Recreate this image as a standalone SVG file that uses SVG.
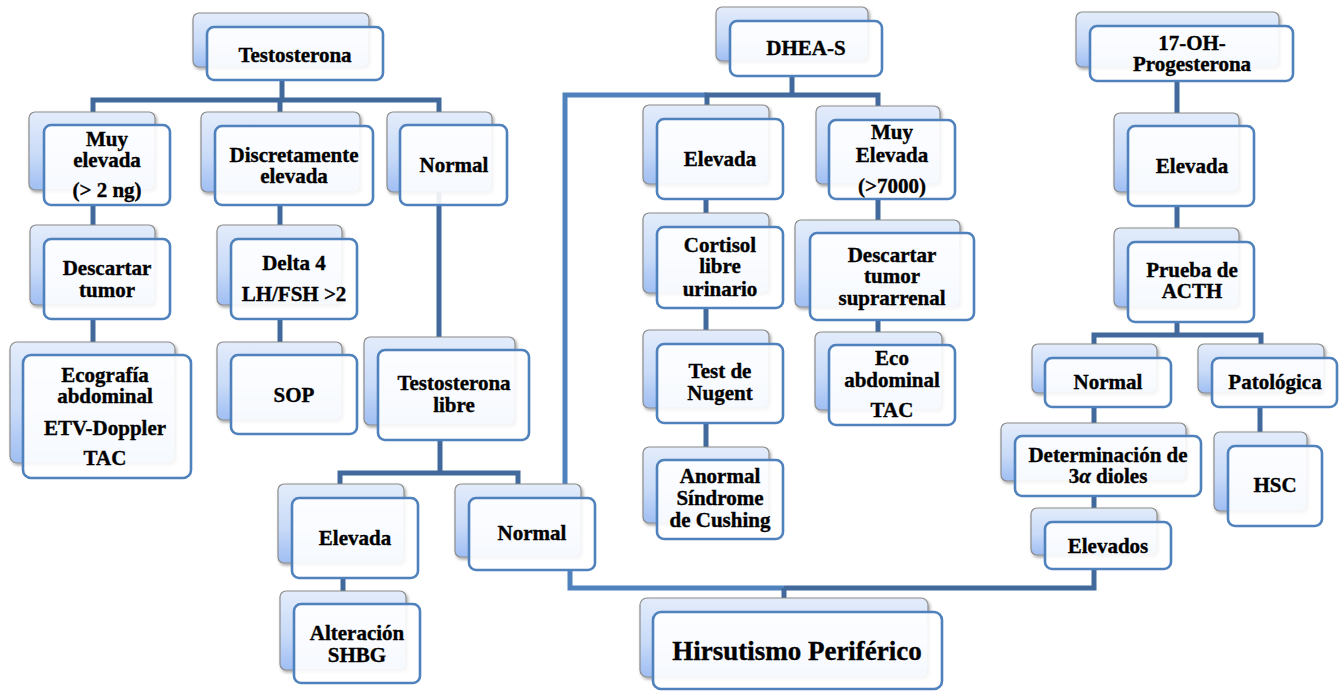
<svg xmlns="http://www.w3.org/2000/svg" width="1343" height="691" viewBox="0 0 1343 691">
  <defs>
    <linearGradient id="backFill" x1="0" y1="0" x2="0" y2="1">
      <stop offset="0" stop-color="#e3ecfb"/>
      <stop offset="0.55" stop-color="#c9dbf8"/>
      <stop offset="1" stop-color="#9fbef3"/>
    </linearGradient>
    <filter id="shadow" x="-10%" y="-10%" width="125%" height="130%">
      <feDropShadow dx="1.5" dy="2" stdDeviation="1.5" flood-color="#000" flood-opacity="0.35"/>
    </filter>
    <style>
      .back { fill: url(#backFill); stroke: #8c8c8c; stroke-width: 1.2; filter: url(#shadow); }
      .front { fill: #ffffff; fill-opacity: 0.9; stroke: #4f81bd; stroke-width: 2.6; }
      #nodes text { stroke: #000; stroke-width: 0.35; }
      .wire { fill: none; stroke: #41699b; stroke-width: 5; }
      .wire.light { stroke: #4f81bd; }
    </style>
  </defs>
  <rect width="1343" height="691" fill="#ffffff"/>

  <!-- connectors (drawn underneath the boxes) -->
  <g id="connectors">
    <!-- Testosterona branch -->
    <path class="wire" d="M282,80 V100"/>
    <path class="wire" d="M93,112 V100 H439 V337"/>
    <path class="wire" d="M280,100 V112"/>
    <path class="wire" d="M93,205 V225"/>
    <path class="wire" d="M93,319 V342"/>
    <path class="wire" d="M280,205 V225"/>
    <path class="wire" d="M280,319 V342"/>
    <path class="wire" d="M440,440 V473"/>
    <path class="wire" d="M340,484 V473 H518 V484"/>
    <path class="wire" d="M343,578 V591"/>
    <!-- Normal to DHEA-S and to Hirsutismo -->
    <path class="wire light" d="M565,484 V95 H707"/>
    <path class="wire light" d="M570,570 V588 H784"/>
    <path class="wire" d="M784,588 H1094 V569"/>
    <path class="wire" d="M784,588 V598"/>
    <!-- DHEA-S branch -->
    <path class="wire" d="M792,76 V95"/>
    <path class="wire" d="M707,119 V95 H878 V120"/>
    <path class="wire" d="M706,199 V213"/>
    <path class="wire" d="M706,308 V330"/>
    <path class="wire" d="M706,423 V447"/>
    <path class="wire" d="M878,199 V220"/>
    <path class="wire" d="M878,320 V332"/>
    <!-- 17-OH-Progesterona branch -->
    <path class="wire" d="M1177,81 V113"/>
    <path class="wire" d="M1177,206 V228"/>
    <path class="wire" d="M1177,322 V335"/>
    <path class="wire" d="M1094,344 V335 H1261 V344"/>
    <path class="wire" d="M1094,407 V423"/>
    <path class="wire" d="M1260,407 V432"/>
    <path class="wire" d="M1094,496 V508"/>
  </g>

  <g id="nodes" font-family="Liberation Serif" font-weight="bold" font-size="21" text-anchor="middle" fill="#000">

  <g id="n-testosterona">
    <rect class="back" x="193" y="13" width="176" height="54" rx="6"/>
    <rect class="front" x="207" y="27" width="176" height="53" rx="7"/>
    <text x="295" y="62">Testosterona</text>
  </g>

  <g id="n-muy-elevada">
    <rect class="back" x="29" y="112" width="126" height="78" rx="6"/>
    <rect class="front" x="44" y="125" width="126" height="80" rx="7"/>
    <text x="107" y="146">Muy</text>
    <text x="107" y="167">elevada</text>
    <text x="107" y="197">(&gt; 2 ng)</text>
  </g>

  <g id="n-discretamente">
    <rect class="back" x="201" y="112" width="159" height="80" rx="6"/>
    <rect class="front" x="215" y="126" width="158" height="79" rx="7"/>
    <text x="294" y="162">Discretamente</text>
    <text x="294" y="183">elevada</text>
  </g>

  <g id="n-normal-t">
    <rect class="back" x="387" y="112" width="105" height="80" rx="6"/>
    <rect class="front" x="400" y="125" width="107" height="80" rx="7"/>
    <text x="454" y="172">Normal</text>
  </g>

  <g id="n-descartar-tumor">
    <rect class="back" x="30" y="225" width="125" height="80" rx="6"/>
    <rect class="front" x="44" y="239" width="126" height="80" rx="7"/>
    <text x="107" y="275">Descartar</text>
    <text x="107" y="297">tumor</text>
  </g>

  <g id="n-ecografia">
    <rect class="back" x="10" y="342" width="165" height="121" rx="7"/>
    <rect class="front" x="23" y="355" width="168" height="123" rx="8"/>
    <text x="105" y="382">Ecografía</text>
    <text x="105" y="403">abdominal</text>
    <text x="105" y="435">ETV-Doppler</text>
    <text x="105" y="465">TAC</text>
  </g>

  <g id="n-delta4">
    <rect class="back" x="217" y="225" width="125" height="80" rx="6"/>
    <rect class="front" x="231" y="239" width="126" height="80" rx="7"/>
    <text x="294" y="270">Delta 4</text>
    <text x="294" y="301">LH/FSH &gt;2</text>
  </g>

  <g id="n-sop">
    <rect class="back" x="217" y="342" width="125" height="78" rx="6"/>
    <rect class="front" x="231" y="355" width="126" height="79" rx="7"/>
    <text x="294" y="402">SOP</text>
  </g>

  <g id="n-testosterona-libre">
    <rect class="back" x="364" y="337" width="151" height="88" rx="6"/>
    <rect class="front" x="378" y="350" width="151" height="90" rx="7"/>
    <text x="454" y="390">Testosterona</text>
    <text x="454" y="412">libre</text>
  </g>

  <g id="n-elevada-tl">
    <rect class="back" x="278" y="484" width="126" height="79" rx="6"/>
    <rect class="front" x="292" y="498" width="126" height="80" rx="7"/>
    <text x="355" y="545">Elevada</text>
  </g>

  <g id="n-normal-tl">
    <rect class="back" x="455" y="484" width="126" height="73" rx="6"/>
    <rect class="front" x="469" y="498" width="126" height="72" rx="7"/>
    <text x="532" y="540">Normal</text>
  </g>

  <g id="n-shbg">
    <rect class="back" x="280" y="591" width="126" height="79" rx="6"/>
    <rect class="front" x="294" y="604" width="126" height="79" rx="7"/>
    <text x="357" y="640">Alteración</text>
    <text x="357" y="662">SHBG</text>
  </g>

  <g id="n-dheas">
    <rect class="back" x="716" y="7" width="152" height="54" rx="6"/>
    <rect class="front" x="730" y="21" width="152" height="55" rx="7"/>
    <text x="806" y="55">DHEA-S</text>
  </g>

  <g id="n-elevada-d">
    <rect class="back" x="643" y="105" width="126" height="79" rx="6"/>
    <rect class="front" x="657" y="119" width="126" height="80" rx="7"/>
    <text x="720" y="166">Elevada</text>
  </g>

  <g id="n-muy-elevada-d">
    <rect class="back" x="816" y="106" width="124" height="78" rx="6"/>
    <rect class="front" x="829" y="120" width="126" height="79" rx="7"/>
    <text x="892" y="139">Muy</text>
    <text x="892" y="162">Elevada</text>
    <text x="892" y="193">(&gt;7000)</text>
  </g>

  <g id="n-cortisol">
    <rect class="back" x="643" y="213" width="126" height="80" rx="6"/>
    <rect class="front" x="657" y="227" width="126" height="81" rx="7"/>
    <text x="720" y="252">Cortisol</text>
    <text x="720" y="273">libre</text>
    <text x="720" y="296">urinario</text>
  </g>

  <g id="n-nugent">
    <rect class="back" x="643" y="330" width="126" height="78" rx="6"/>
    <rect class="front" x="657" y="344" width="126" height="79" rx="7"/>
    <text x="720" y="378">Test de</text>
    <text x="720" y="400">Nugent</text>
  </g>

  <g id="n-cushing">
    <rect class="back" x="643" y="447" width="126" height="76" rx="6"/>
    <rect class="front" x="657" y="460" width="126" height="79" rx="7"/>
    <text x="720" y="483">Anormal</text>
    <text x="720" y="505">Síndrome</text>
    <text x="720" y="527">de Cushing</text>
  </g>

  <g id="n-suprarrenal">
    <rect class="back" x="795" y="220" width="165" height="87" rx="6"/>
    <rect class="front" x="810" y="233" width="164" height="87" rx="7"/>
    <text x="892" y="262">Descartar</text>
    <text x="892" y="283">tumor</text>
    <text x="892" y="305">suprarrenal</text>
  </g>

  <g id="n-eco">
    <rect class="back" x="815" y="332" width="127" height="78" rx="6"/>
    <rect class="front" x="829" y="345" width="126" height="80" rx="7"/>
    <text x="892" y="365">Eco</text>
    <text x="892" y="387">abdominal</text>
    <text x="892" y="417">TAC</text>
  </g>

  <g id="n-17oh">
    <rect class="back" x="1076" y="12" width="203" height="55" rx="6"/>
    <rect class="front" x="1090" y="26" width="203" height="55" rx="7"/>
    <text x="1192" y="50">17-OH-</text>
    <text x="1192" y="71">Progesterona</text>
  </g>

  <g id="n-elevada-17">
    <rect class="back" x="1114" y="113" width="125" height="79" rx="6"/>
    <rect class="front" x="1128" y="126" width="126" height="80" rx="7"/>
    <text x="1192" y="173">Elevada</text>
  </g>

  <g id="n-acth">
    <rect class="back" x="1114" y="228" width="125" height="79" rx="6"/>
    <rect class="front" x="1128" y="242" width="126" height="80" rx="7"/>
    <text x="1192" y="277">Prueba de</text>
    <text x="1192" y="298">ACTH</text>
  </g>

  <g id="n-normal-17">
    <rect class="back" x="1032" y="344" width="125" height="49" rx="6"/>
    <rect class="front" x="1045" y="358" width="126" height="49" rx="7"/>
    <text x="1108" y="389">Normal</text>
  </g>

  <g id="n-patologica">
    <rect class="back" x="1198" y="344" width="126" height="49" rx="6"/>
    <rect class="front" x="1212" y="358" width="125" height="49" rx="7"/>
    <text x="1275" y="389">Patológica</text>
  </g>

  <g id="n-dioles">
    <rect class="back" x="1001" y="423" width="185" height="58" rx="6"/>
    <rect class="front" x="1015" y="436" width="186" height="60" rx="7"/>
    <text x="1108" y="462">Determinación de</text>
    <text x="1108" y="483">3<tspan font-style="italic">α</tspan> dioles</text>
  </g>

  <g id="n-hsc">
    <rect class="back" x="1214" y="432" width="93" height="79" rx="6"/>
    <rect class="front" x="1228" y="446" width="94" height="80" rx="7"/>
    <text x="1275" y="492">HSC</text>
  </g>

  <g id="n-elevados">
    <rect class="back" x="1031" y="508" width="126" height="47" rx="6"/>
    <rect class="front" x="1045" y="522" width="126" height="47" rx="7"/>
    <text x="1108" y="553">Elevados</text>
  </g>

  <g id="n-hirsutismo">
    <rect class="back" x="640" y="598" width="288" height="79" rx="7"/>
    <rect class="front" x="653" y="612" width="289" height="77" rx="8"/>
    <text x="797" y="660" font-size="27">Hirsutismo Periférico</text>
  </g>

  </g>
</svg>
